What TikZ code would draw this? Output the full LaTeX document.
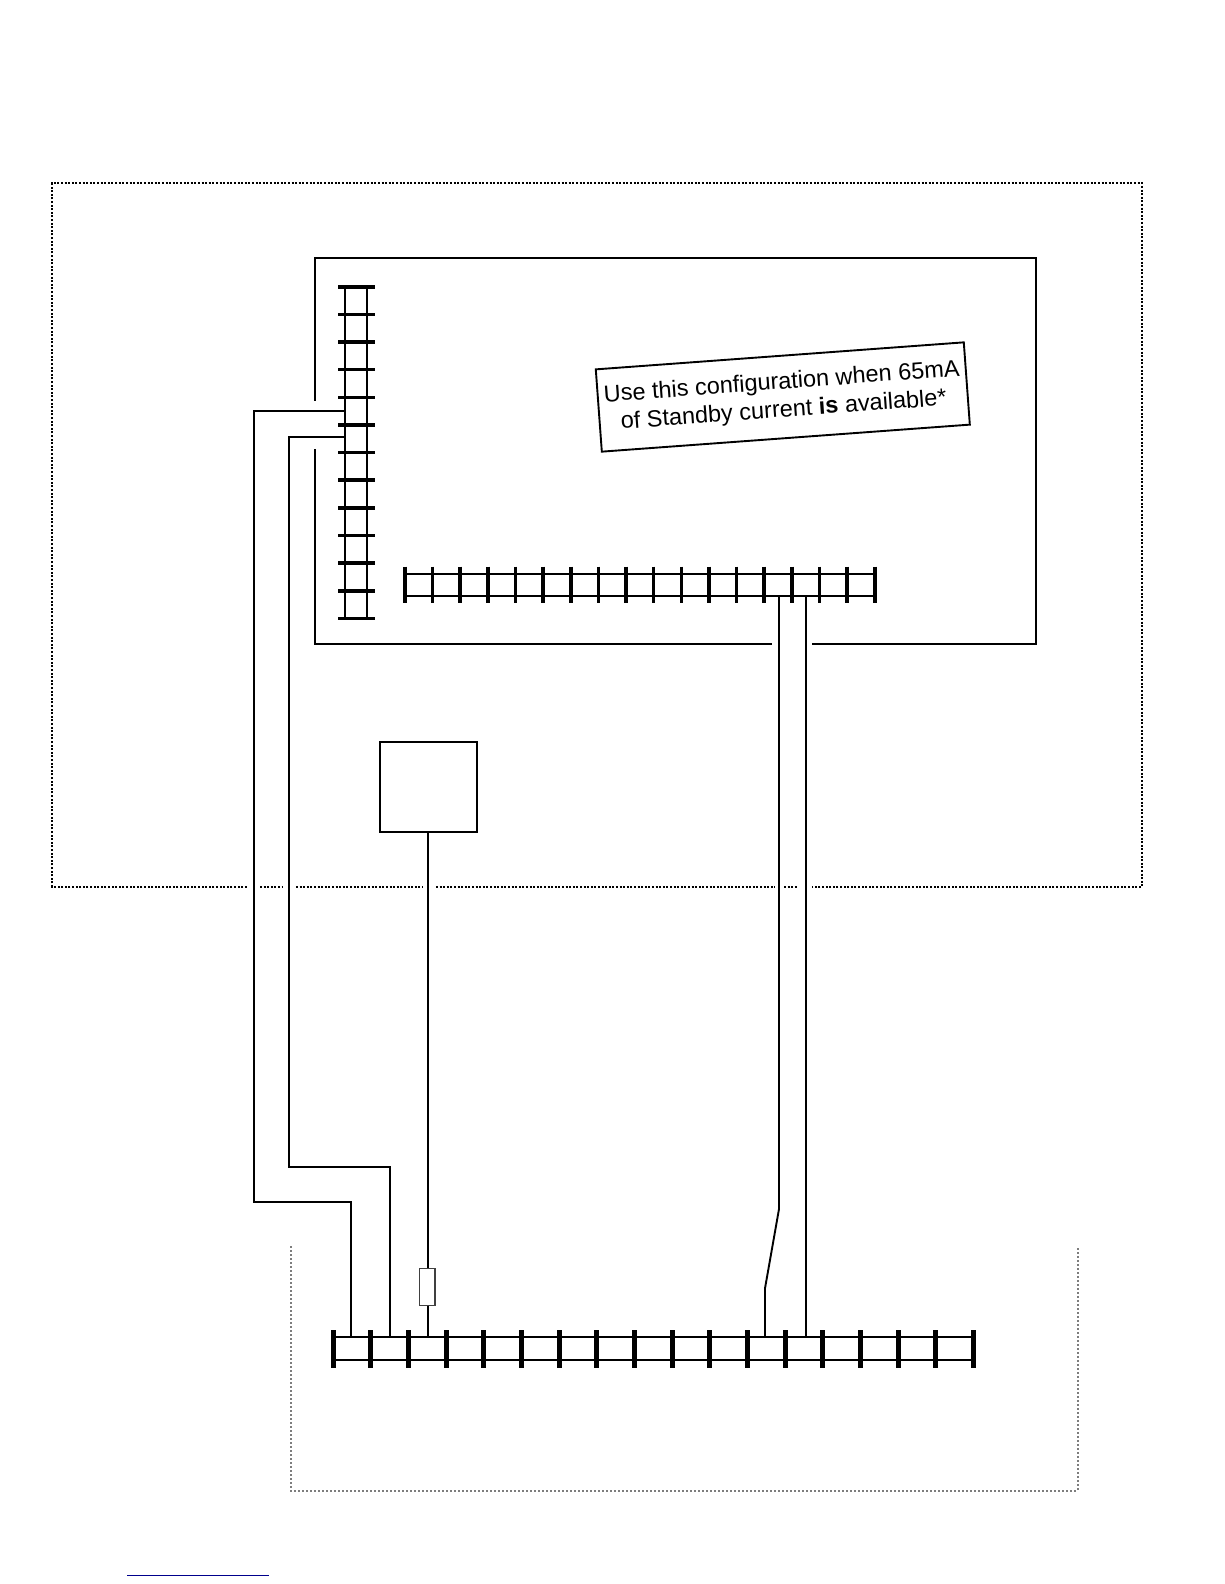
\documentclass[tikz,border=0pt]{standalone}
\usepackage{fontspec}
\setmainfont{Liberation Sans}
\definecolor{linkblue}{RGB}{0,0,140}
\definecolor{dotgrey}{RGB}{125,125,125}
\tikzset{
  wire/.style={draw=black,line width=1.9pt,line cap=butt,line join=miter},
  rail/.style={draw=black,line width=2pt},
  rung/.style={draw=black,line width=3.6pt},
  rungbig/.style={draw=black,line width=5pt},
  dotblack/.style={draw=black,line width=2pt,dash pattern=on 2pt off 1.6pt},
  dotgreyline/.style={draw=dotgrey,line width=2pt,dash pattern=on 2pt off 2pt},
  plainbox/.style={draw=black,line width=2.2pt,fill=white,inner sep=0pt,minimum width=96.4pt,minimum height=89.4pt},
  resbox/.style={draw=black!75,line width=1.4pt,fill=white,inner sep=0pt,minimum width=15.6pt,minimum height=37.4pt},
  notebox/.style={draw=black,line width=1.9pt,fill=white,inner sep=0pt,minimum width=369pt,minimum height=82.5pt,
    rotate=4.2,align=center,font=\fontsize{23.5}{28}\selectfont},
}
\begin{document}
\begin{tikzpicture}[x=1pt,y=-1pt]
\useasboundingbox (0,0) rectangle (1224,1584);
% outer dotted frame
\coordinate (oa) at (52,886.7);
\coordinate (ob) at (52,183.3);
\coordinate (oc) at (1142,183.3);
\coordinate (od) at (1142,886.7);
\draw[dotblack] (246.7,886.7) -- (oa) -- (ob) -- (oc) -- (od) -- (812.3,886.7);
\draw[dotblack] (260,886.7) -- (282.7,886.7);
\draw[dotblack] (296,886.7) -- (422.7,886.7);
\draw[dotblack] (436,886.7) -- (775,886.7);
\draw[dotblack] (784,886.7) -- (798.3,886.7);
% lower grey dotted frame
\coordinate (ga) at (291,1246);
\coordinate (gb) at (291,1490.7);
\coordinate (gc) at (1077.5,1490.7);
\coordinate (gd) at (1077.5,1246);
\draw[dotgreyline] (ga) -- (gb) -- (gc) -- (gd);
% inner box
\coordinate (ba) at (315,400.7);
\coordinate (bb) at (315,258);
\coordinate (bc) at (1035.7,258);
\coordinate (bd) at (1035.7,644);
\coordinate (be) at (811.7,644);
\coordinate (bf) at (771.7,644);
\coordinate (bg) at (315,644);
\coordinate (bh) at (315,449);
\draw[wire,line width=2.2pt] (ba) -- (bb) -- (bc) -- (bd) -- (be);
\draw[wire,line width=2.2pt] (bf) -- (bg) -- (bh);
% vertical ladder
\coordinate (vl1) at (345.3,286.7);
\coordinate (vl2) at (345.3,618.5);
\coordinate (vr1) at (367.3,286.7);
\coordinate (vr2) at (367.3,618.5);
\draw[rail] (vl1) -- (vl2);
\draw[rail] (vr1) -- (vr2);
\foreach \i [evaluate=\i as \yy using 286.7+27.65*\i] in {0,...,12}{
  \coordinate (vra\i) at (338,\yy);
  \coordinate (vrb\i) at (375,\yy);
  \draw[rung] (vra\i) -- (vrb\i);
}
% top horizontal ladder
\coordinate (ht1) at (405,574);
\coordinate (ht2) at (874.7,574);
\coordinate (hb1) at (405,596);
\coordinate (hb2) at (874.7,596);
\draw[rail] (ht1) -- (ht2);
\draw[rail] (hb1) -- (hb2);
\foreach \i [evaluate=\i as \xx using 405+27.63*\i] in {0,...,17}{
  \coordinate (hra\i) at (\xx,566.7);
  \coordinate (hrb\i) at (\xx,603.3);
  \draw[rung] (hra\i) -- (hrb\i);
}
% bottom ladder
\coordinate (bt1) at (333.3,1337.3);
\coordinate (bt2) at (973.5,1337.3);
\coordinate (bb1) at (333.3,1360);
\coordinate (bb2) at (973.5,1360);
\draw[rail] (bt1) -- (bt2);
\draw[rail] (bb1) -- (bb2);
\foreach \i [evaluate=\i as \xx using 333.3+37.66*\i] in {0,...,17}{
  \coordinate (bra\i) at (\xx,1330);
  \coordinate (brb\i) at (\xx,1367.7);
  \draw[rungbig] (bra\i) -- (brb\i);
}
% square and resistor
\node[plainbox] (sq) at (428.5,787) {};
\node[resbox] (res) at (427.3,1287) {};
% wires
\coordinate (a1) at (345.3,411);
\coordinate (a2) at (254,411);
\coordinate (a3) at (254,1201.7);
\coordinate (a4) at (351,1201.7);
\coordinate (a5) at (351,1337.3);
\draw[wire] (a1) -- (a2) -- (a3) -- (a4) -- (a5);
\coordinate (b1) at (345.3,437);
\coordinate (b2) at (289,437);
\coordinate (b3) at (289,1166.7);
\coordinate (b4) at (390,1166.7);
\coordinate (b5) at (390,1337.3);
\draw[wire] (b1) -- (b2) -- (b3) -- (b4) -- (b5);
\coordinate (c1) at (428,831.7);
\coordinate (c2) at (428,1268.3);
\coordinate (c3) at (428,1305.7);
\coordinate (c4) at (428,1337.3);
\draw[wire] (c1) -- (c2);
\draw[wire] (c3) -- (c4);
\coordinate (d1) at (779,596);
\coordinate (d2) at (779,1209);
\coordinate (d3) at (765,1288.3);
\coordinate (d4) at (765,1337.3);
\draw[wire] (d1) -- (d2) -- (d3) -- (d4);
\coordinate (e1) at (806,596);
\coordinate (e2) at (806,1337.3);
\draw[wire] (e1) -- (e2);
% note
\node[notebox] (note) at (782.8,397) {Use this configuration when 65mA\\of Standby current \textbf{is} available*};
% blue rule
\coordinate (l1) at (127,1575.3);
\coordinate (l2) at (269,1575.3);
\draw[draw=linkblue,line width=1pt] (l1) -- (l2);
\end{tikzpicture}
\end{document}
